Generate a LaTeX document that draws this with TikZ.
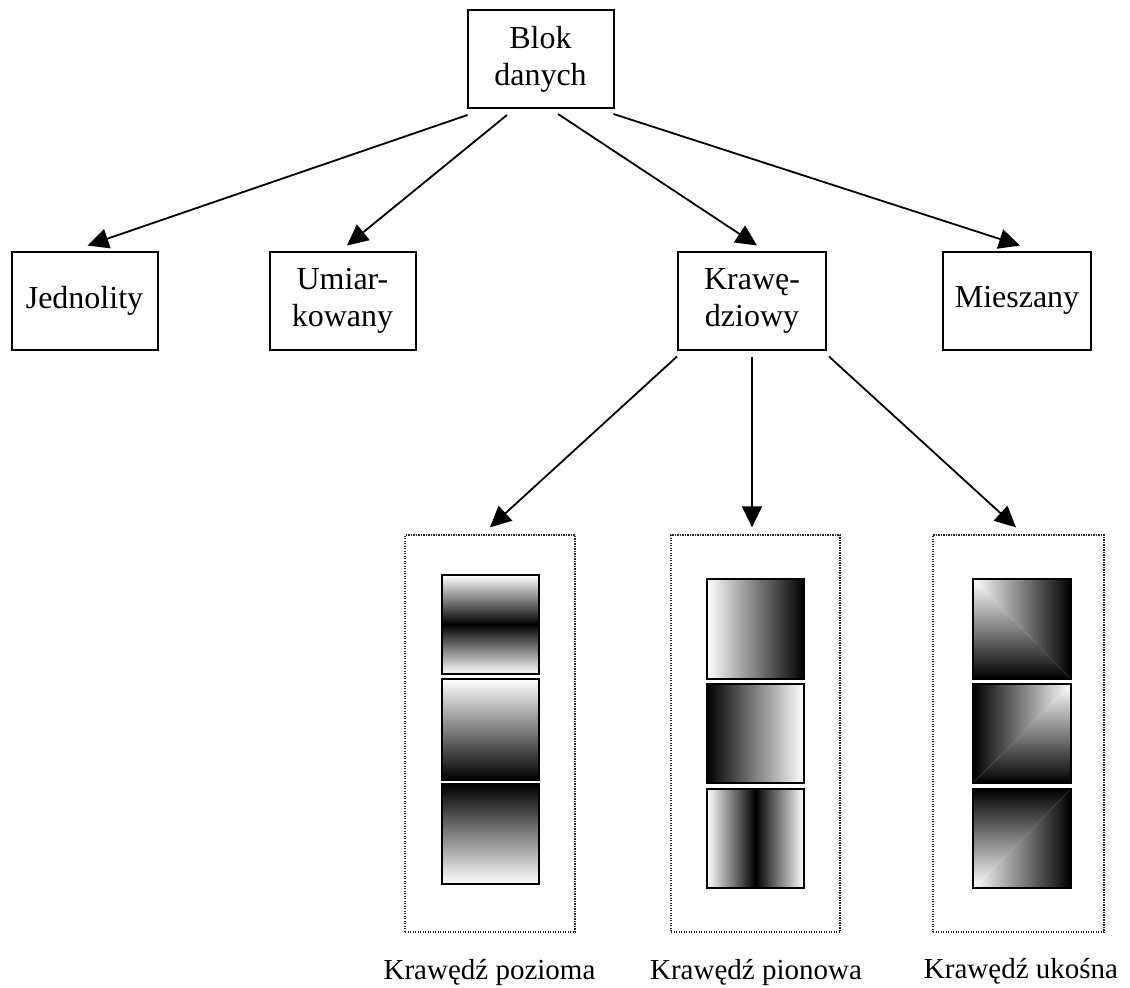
\documentclass[tikz,border=0pt]{standalone}
\usepackage{fontspec}
\setmainfont{Liberation Serif}
\usetikzlibrary{arrows.meta}
\begin{document}
\begin{tikzpicture}[x=1pt,y=-1pt,
  box/.style={draw,line width=2pt,minimum width=146pt,minimum height=98pt,inner sep=0pt,align=center,font=\fontsize{32}{37}\selectfont},
  panel/.style={draw=black!85,line width=1.3pt,dash pattern=on 1.3pt off 1.2pt,minimum height=397pt,inner sep=0pt},
  lbl/.style={font=\fontsize{29}{33}\selectfont,anchor=base,inner sep=0pt},
  arr/.style={line width=1.8pt,-{Triangle[length=21pt,width=20pt]}},
  sq/.style={line width=2pt}]
\useasboundingbox (0,0) rectangle (1130,988);

% main boxes
\node[box] (blok) at (540.5,59) {Blok\\danych};
\node[box] (jed) at (84.5,300.5) {Jednolity};
\node[box] (umi) at (342.5,300.5) {Umiar-\\kowany};
\node[box,minimum width=148pt] (kra) at (752,300.5) {Krawę-\\dziowy};
\node[box,minimum width=148pt] (mie) at (1017,300.5) {Mieszany};

% dotted panels
\node[panel,minimum width=170pt] (p1) at (490,733.5) {};
\node[panel,minimum width=169pt] (p2) at (755.5,733.5) {};
\node[panel,minimum width=171pt] (p3) at (1018.5,733.5) {};

% labels
\node[lbl] (l1) at (489.5,979) {Krawędź pozioma};
\node[lbl] (l2) at (756,979) {Krawędź pionowa};
\node[lbl] (l3) at (1021,978) {Krawędź ukośna};

% arrows from Blok danych
\draw[arr] ([xshift=1pt,yshift=-6pt]blok.south west) -- ([xshift=77pt,yshift=5pt]jed.north west);
\draw[arr] ([xshift=-33.5pt,yshift=-6pt]blok.south) -- ([xshift=4.5pt,yshift=5pt]umi.north);
\draw[arr] ([xshift=17.5pt,yshift=-5pt]blok.south) -- ([xshift=5pt,yshift=5pt]kra.north);
\draw[arr] ([xshift=-1pt,yshift=-5pt]blok.south east) -- ([xshift=3pt,yshift=5pt]mie.north);

% arrows from Krawedziowy
\draw[arr] ([yshift=-6pt]kra.south west) -- ([yshift=7pt]p1.north);
\draw[arr] ([yshift=-6pt]kra.south) -- ([yshift=7pt]kra.south |- p2.north);
\draw[arr] ([xshift=2pt,yshift=-6pt]kra.south east) -- ([xshift=-2.5pt,yshift=7pt]p3.north);

% column 1: horizontal edges
\shade[top color=white,bottom color=black] (442,575) rectangle (539,624.5);
\shade[top color=black,bottom color=white] (442,624.5) rectangle (539,674);
\draw[sq] (442,575) rectangle (539,674);
\shade[top color=white,bottom color=black] (442,679) rectangle (539,780);
\draw[sq] (442,679) rectangle (539,780);
\shade[top color=black,bottom color=white] (442,784) rectangle (539,884);
\draw[sq] (442,784) rectangle (539,884);

% column 2: vertical edges
\shade[left color=white,right color=black] (707,579) rectangle (804,679);
\draw[sq] (707,579) rectangle (804,679);
\shade[left color=black,right color=white] (707,684) rectangle (804,783);
\draw[sq] (707,684) rectangle (804,783);
\shade[left color=white,right color=black] (707,789) rectangle (755.5,888);
\shade[left color=black,right color=white] (755.5,789) rectangle (804,888);
\draw[sq] (707,789) rectangle (804,888);

% column 3: diagonal edges
\begin{scope}
\clip (973,579) -- (1071,579) -- (1071,679) -- cycle;
\shade[left color=white,right color=black] (973,579) rectangle (1071,679);
\end{scope}
\begin{scope}
\clip (973,579) -- (973,679) -- (1071,679) -- cycle;
\shade[top color=white,bottom color=black] (973,579) rectangle (1071,679);
\end{scope}
\draw[sq] (973,579) rectangle (1071,679);

\begin{scope}
\clip (973,684) -- (1071,684) -- (973,783) -- cycle;
\shade[left color=black,right color=white] (973,684) rectangle (1071,783);
\end{scope}
\begin{scope}
\clip (1071,684) -- (1071,783) -- (973,783) -- cycle;
\shade[top color=white,bottom color=black] (973,684) rectangle (1071,783);
\end{scope}
\draw[sq] (973,684) rectangle (1071,783);

\begin{scope}
\clip (973,789) -- (1071,789) -- (973,888) -- cycle;
\shade[top color=black,bottom color=white] (973,789) rectangle (1071,888);
\end{scope}
\begin{scope}
\clip (1071,789) -- (1071,888) -- (973,888) -- cycle;
\shade[left color=white,right color=black] (973,789) rectangle (1071,888);
\end{scope}
\draw[sq] (973,789) rectangle (1071,888);
\end{tikzpicture}
\end{document}
